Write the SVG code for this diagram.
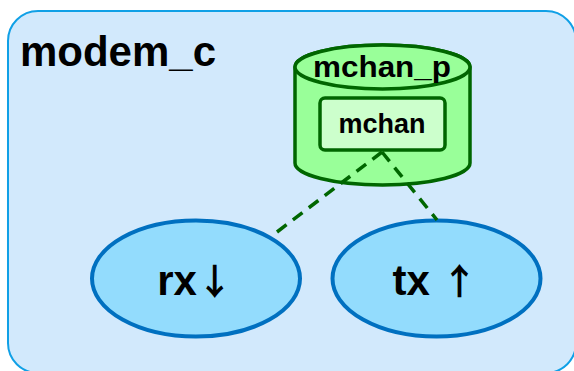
<svg xmlns="http://www.w3.org/2000/svg" width="574" height="371" viewBox="0 0 574 371">
<style>
text{font-family:"Liberation Sans",Arial,sans-serif;font-weight:bold;fill:#000;text-anchor:middle}
.arr{font-family:"Noto Sans CJK SC","DejaVu Sans",sans-serif;font-weight:bold;font-size:36px}
.cyl{fill:#99ff99;stroke:#006600;stroke-width:3.5}
.ell{fill:#93dcfd;stroke:#0070c0;stroke-width:4}
.dash{fill:none;stroke:#006600;stroke-width:3.5;stroke-dasharray:12 8}
</style>
<rect width="574" height="371" fill="#fff"/>
<g id="modem_c">
<rect x="8" y="11" width="568" height="362" rx="30" ry="30" fill="#d2e9fc" stroke="#10a0e6" stroke-width="2"/>
<text x="20" y="66" style="text-anchor:start" font-size="42" textLength="196" lengthAdjust="spacingAndGlyphs">modem_c</text>
</g>
<g id="mchan_p">
<path class="cyl" d="M295,67 L295,163 A87.5,22 0 0 0 470,163 L470,67 A87.5,22 0 0 0 295,67 Z"/>
<ellipse class="cyl" cx="382.5" cy="67" rx="87.5" ry="22"/>
<text x="382" y="77" font-size="30" textLength="138" lengthAdjust="spacingAndGlyphs">mchan_p</text>
</g>
<g id="mchan">
<rect x="320" y="98" width="125" height="52" rx="5" ry="5" fill="#ccffcc" stroke="#006600" stroke-width="3.5"/>
<text x="382" y="133" font-size="27" textLength="87" lengthAdjust="spacingAndGlyphs">mchan</text>
</g>
<g id="rx">
<ellipse class="ell" cx="196" cy="278.5" rx="104" ry="58"/>
<text x="195" y="295" font-size="42">rx<tspan class="arr">↓</tspan></text>
</g>
<g id="tx">
<ellipse class="ell" cx="436.5" cy="278.5" rx="104" ry="58"/>
<text x="435" y="295" font-size="42">tx <tspan class="arr">↑</tspan></text>
</g>
<g id="connectors">
<path class="dash" d="M382,152 L277,232"/>
<path class="dash" d="M382,152 L437,220"/>
</g>
</svg>
